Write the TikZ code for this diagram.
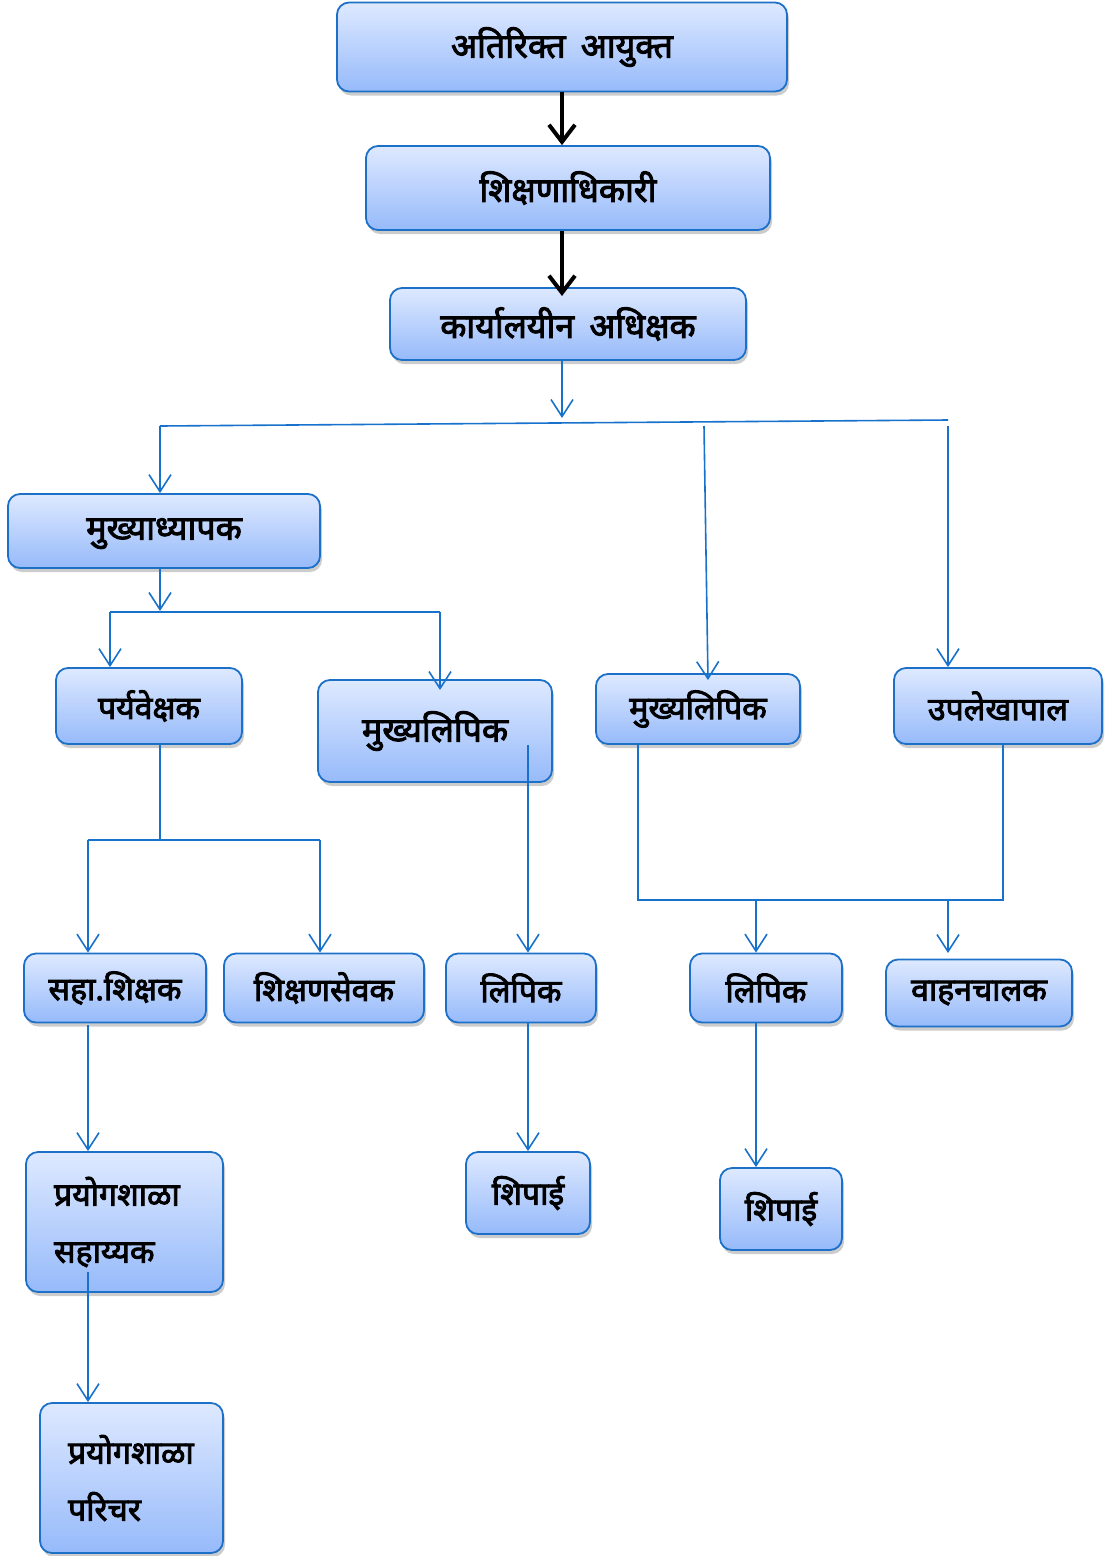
\documentclass[tikz,border=0pt]{standalone}
\usepackage{fontspec}
\newfontfamily\deva[Script=Devanagari, FakeBold=2.8]{Noto Sans}
\usepackage{xcolor}
\usetikzlibrary{arrows.meta, shadows}

\definecolor{boxline}{RGB}{28,112,200}
\definecolor{boxtop}{RGB}{222,233,255}
\definecolor{boxbot}{RGB}{150,186,250}
\definecolor{linkblue}{RGB}{24,114,204}

\newcommand{\gap}{\hspace{0.45em}}

\begin{document}
\begin{tikzpicture}[x=1pt, y=-1pt,
    box/.style={draw=boxline, line width=1.8pt, rounded corners=12pt,
        top color=boxtop, bottom color=boxbot,
        drop shadow={opacity=0.4, shadow xshift=2pt, shadow yshift=-4pt},
        font=\deva\fontsize{32}{36}\selectfont, inner sep=4pt},
    bigbox/.style={box, font=\deva\fontsize{34}{38}\selectfont},
    labbox/.style={box, align=left, font=\deva\fontsize{32}{57}\selectfont},
    wire/.style={draw=linkblue, line width=1.6pt},
    link/.style={wire, -{Straight Barb[length=17pt, width=22pt, line width=1.6pt]}},
    mainlink/.style={draw=black, line width=4pt, -{Straight Barb[length=17pt, width=26pt]}}
]

    % Frame
    \useasboundingbox (0,0) rectangle (1109,1556);

    % Top levels
    \node[bigbox, minimum width=450pt, minimum height=89pt] (addl) at (562,47) {अतिरिक्त\gap आयुक्त};
    \node[bigbox, minimum width=404pt, minimum height=84pt] (eduoff) at (568,188) {शिक्षणाधिकारी};
    \node[bigbox, minimum width=356pt, minimum height=72pt] (office) at (568,324) {कार्यालयीन\gap अधिक्षक};

    % Second level
    \node[bigbox, minimum width=312pt, minimum height=74pt, text depth=4pt] (head) at (164,531) {मुख्याध्यापक};
    \node[box, minimum width=186pt, minimum height=76pt] (super) at (149,706) {पर्यवेक्षक};
    \node[bigbox, minimum width=234pt, minimum height=102pt] (hclerka) at (435,731) {मुख्यलिपिक};
    \node[box, minimum width=204pt, minimum height=70pt] (hclerkb) at (698,709) {मुख्यलिपिक};
    \node[box, minimum width=208pt, minimum height=76pt] (acct) at (998,706) {उपलेखापाल};

    % Third level
    \node[box, minimum width=182pt, minimum height=69pt] (asst) at (115,988) {सहा.शिक्षक};
    \node[box, minimum width=200pt, minimum height=69pt] (sevak) at (324,988) {शिक्षणसेवक};
    \node[box, minimum width=150pt, minimum height=69pt] (clerka) at (521,988) {लिपिक};
    \node[box, minimum width=152pt, minimum height=69pt] (clerkb) at (766,988) {लिपिक};
    \node[box, minimum width=186pt, minimum height=67pt] (driver) at (979,993) {वाहनचालक};

    % Bottom levels
    \node[labbox, text width=141pt, inner xsep=28pt, minimum height=140pt] (labasst) at (124.5,1222) {प्रयोगशाळा\\सहाय्यक};
    \node[box, minimum width=124pt, minimum height=82pt] (peona) at (528,1193) {शिपाई};
    \node[box, minimum width=122pt, minimum height=82pt] (peonb) at (781,1209) {शिपाई};
    \node[labbox, text width=127pt, inner xsep=28pt, minimum height=150pt] (labatt) at (131.5,1478) {प्रयोगशाळा\\परिचर};

    % Thick arrows
    \coordinate (t1) at (562,296);
    \draw[mainlink] (addl.south) -- (addl.south |- eduoff.north);
    \draw[mainlink] (eduoff.south -| t1) -- (t1);

    % Branches from office
    \coordinate (j0) at (562,418);
    \coordinate (hl) at (160,426);
    \coordinate (hr) at (948,420);
    \coordinate (hm) at (704,426);
    \coordinate (hmend) at (708,680);
    \coordinate (hrtop) at (948,426);
    \draw[link] (office.south -| j0) -- (j0);
    \draw[wire] (hl) -- (hr);
    \draw[link] (hl) -- (head.north -| hl);
    \draw[link] (hm) -- (hmend);
    \draw[link] (hrtop) -- (acct.north -| hrtop);

    % Under head master
    \coordinate (j1) at (160,611);
    \coordinate (gl) at (110,612);
    \coordinate (gr) at (440,612);
    \coordinate (grend) at (440,690);
    \draw[link] (head.south -| j1) -- (j1);
    \draw[wire] (gl) -- (gr);
    \draw[link] (gl) -- (super.north -| gl);
    \draw[link] (gr) -- (grend);

    % Under supervisor
    \coordinate (fm) at (160,840);
    \coordinate (fl) at (88,840);
    \coordinate (fr) at (320,840);
    \draw[wire] (super.south -| fm) -- (fm);
    \draw[wire] (fl) -- (fr);
    \draw[link] (fl) -- (asst.north -| fl);
    \draw[link] (fr) -- (sevak.north -| fr);

    % Under left head clerk
    \coordinate (ca) at (528,745);
    \draw[link] (ca) -- (clerka.north -| ca);

    % Under right head clerk and accountant
    \coordinate (el) at (638,900);
    \coordinate (er) at (1003,900);
    \coordinate (em) at (756,900);
    \coordinate (ed) at (948,900);
    \coordinate (edend) at (948,953);
    \draw[wire] (hclerkb.south -| el) -- (el) -- (er) -- (acct.south -| er);
    \draw[link] (em) -- (clerkb.north -| em);
    \draw[link] (ed) -- (edend);

    % Lower chains
    \coordinate (la) at (88,1025);
    \coordinate (lb) at (88,1272);
    \draw[link] (la) -- (labasst.north -| la);
    \draw[link] (clerka.south -| ca) -- (peona.north -| ca);
    \draw[link] (clerkb.south -| em) -- (peonb.north -| em);
    \draw[link] (lb) -- (labatt.north -| lb);

\end{tikzpicture}
\end{document}
